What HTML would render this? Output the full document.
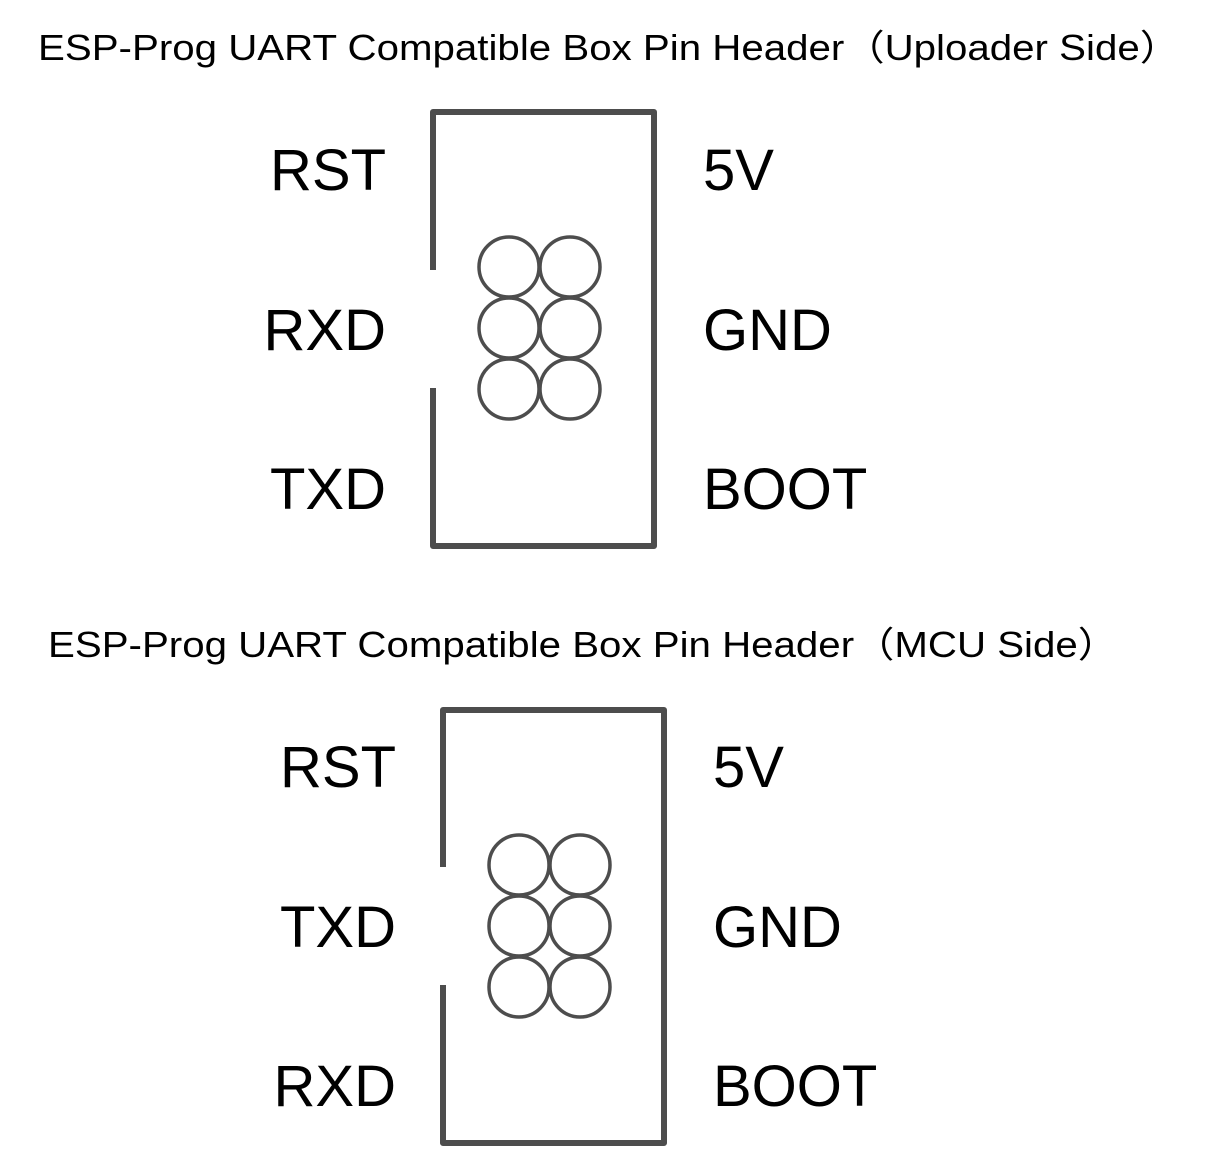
<!DOCTYPE html>
<html><head><style>html,body{margin:0;padding:0;background:#fff}</style></head><body>
<svg width="1214" height="1162" viewBox="0 0 1214 1162" xmlns="http://www.w3.org/2000/svg" font-family="Liberation Sans, Noto Sans CJK SC, sans-serif" fill="#000">
<text x="38" y="60" font-size="36" textLength="1142" lengthAdjust="spacingAndGlyphs">ESP-Prog UART Compatible Box Pin Header（Uploader Side）</text>
<text x="48" y="657" font-size="36" textLength="1070" lengthAdjust="spacingAndGlyphs">ESP-Prog UART Compatible Box Pin Header（MCU Side）</text>
<g font-size="58">
<text x="386" y="190" text-anchor="end">RST</text>
<text x="386" y="350" text-anchor="end">RXD</text>
<text x="386" y="509" text-anchor="end">TXD</text>
<text x="703" y="190">5V</text>
<text x="703" y="350">GND</text>
<text x="703" y="509">BOOT</text>
<text x="396" y="787" text-anchor="end">RST</text>
<text x="396" y="947" text-anchor="end">TXD</text>
<text x="396" y="1106" text-anchor="end">RXD</text>
<text x="713" y="787">5V</text>
<text x="713" y="947">GND</text>
<text x="713" y="1106">BOOT</text>
</g>
<g fill="none" stroke="#4d4d4d" stroke-width="6" stroke-linejoin="round">
<polyline points="433,270 433,112 654,112 654,546 433,546 433,388"/>
<polyline points="443,867 443,710 664,710 664,1143 443,1143 443,985"/>
</g>
<g fill="none" stroke="#4d4d4d" stroke-width="3.5">
<circle cx="509" cy="267" r="30"/><circle cx="570" cy="267" r="30"/>
<circle cx="509" cy="328" r="30"/><circle cx="570" cy="328" r="30"/>
<circle cx="509" cy="389" r="30"/><circle cx="570" cy="389" r="30"/>
<circle cx="519" cy="865" r="30"/><circle cx="580" cy="865" r="30"/>
<circle cx="519" cy="926" r="30"/><circle cx="580" cy="926" r="30"/>
<circle cx="519" cy="987" r="30"/><circle cx="580" cy="987" r="30"/>
</g>
</svg>
</body></html>
